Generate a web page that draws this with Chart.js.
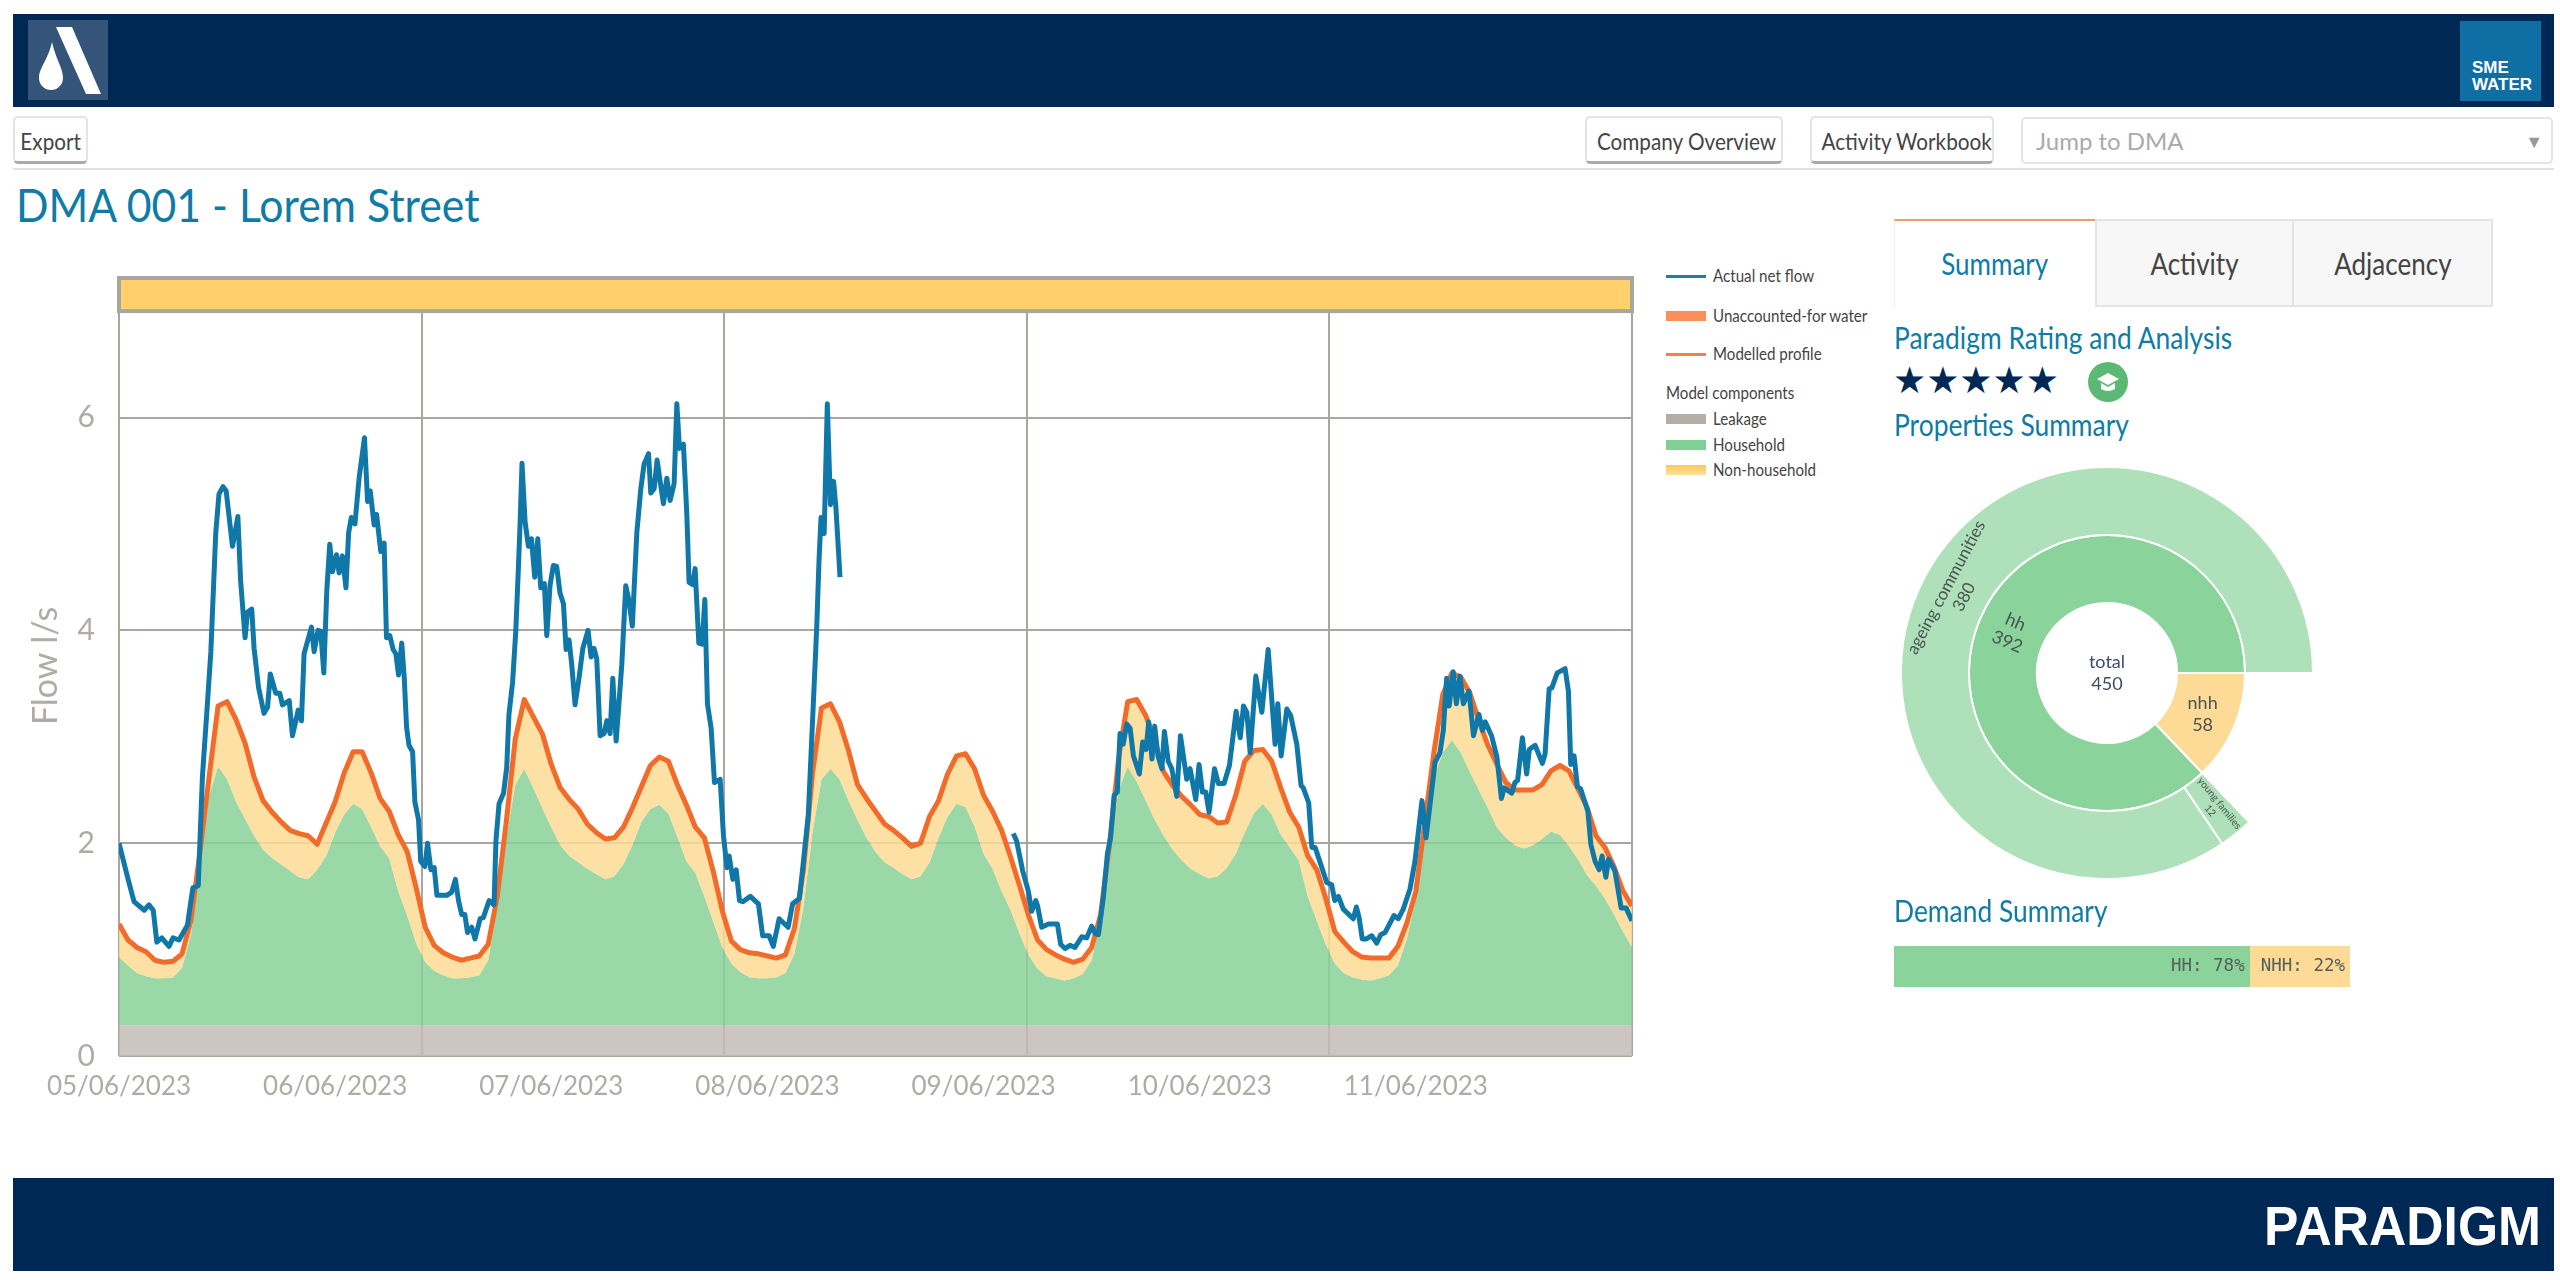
<!DOCTYPE html>
<html>
<head>
<meta charset="utf-8">
<title>DMA 001 - Lorem Street</title>
<script src="https://cdn.jsdelivr.net/npm/chart.js@4"></script>
<style>
  html, body { margin: 0; background: #fff; }
  body { position: relative; width: 2560px; height: 1280px; overflow: hidden; font-family: Lato, sans-serif; color: #444; }
  .abs { position: absolute; white-space: nowrap; }
  .navy { background: #002855; left: 13px; width: 2541px; }
  .btn { top: 116px; height: 48px; line-height: 46px; box-sizing: border-box; border: 2px solid #e4e4e4; border-bottom: 3px solid #aaa; border-radius: 5px; text-align: center; font-size: 23px; color: #444; }
  .btn span, .tab span { display: inline-block; transform: scaleX(0.9); }
  .teal { color: #0e7ca6; }
  .h2 { left: 1894px; font-size: 30px; line-height: 36px; color: #0e7ca6; transform: scaleX(0.88); transform-origin: left; }
  .tab { top: 219px; height: 88px; box-sizing: border-box; line-height: 84px; text-align: center; font-size: 31px; background: #f7f7f7; border: 2px solid #e4e4e4; border-left: 0; }
  .tab span { transform: scaleX(0.84); }
  .leg { left: 1713px; font-size: 17px; line-height: 20px; color: #444; transform: scaleX(0.89); transform-origin: left; }
  .sw { left: 1666px; width: 40px; }
  canvas { position: absolute; }
</style>
</head>
<body>
<div class="abs navy" style="top:14px;height:93px"></div>
<svg class="abs" style="left:28px;top:20px" width="80" height="80" viewBox="0 0 80 80">
  <rect width="80" height="80" fill="#35547a"/>
  <polygon points="28,7 44,7 73,74 58,74" fill="#fff"/>
  <path d="M24,22 C28,40 35,48 35,58 A12,12 0 0 1 11,58 C11,48 20,40 24,22 Z" fill="#fff"/>
</svg>
<svg class="abs" style="left:2460px;top:21px" width="81" height="80">
  <rect width="81" height="80" fill="#0f6ea3"/>
  <text x="12" y="52" font-family="Liberation Sans" font-weight="700" font-size="17" fill="#fff">SME</text>
  <text x="12" y="69" font-family="Liberation Sans" font-weight="700" font-size="17" fill="#fff">WATER</text>
</svg>

<div class="abs btn" style="left:13px;width:75px"><span>Export</span></div>
<div class="abs btn" style="left:1585px;width:198px"><span>Company Overview</span></div>
<div class="abs btn" style="left:1810px;width:184px"><span>Activity Workbook</span></div>
<div class="abs" style="left:2021px;top:117px;width:532px;height:47px;box-sizing:border-box;border:2px solid #e4e4e4;border-radius:5px;line-height:44px;padding-left:13px;font-size:24px;color:#aaa">Jump to DMA<span class="abs" style="right:8px;top:0;font-size:18px;color:#999">▼</span></div>
<div class="abs" style="left:13px;top:168px;width:2541px;height:2px;background:#e2e2e2"></div>

<div class="abs teal" style="left:16px;top:176px;font-size:47px;line-height:56px;transform:scaleX(0.91);transform-origin:left">DMA 001 - Lorem Street</div>

<canvas id="flowChart" style="left:0;top:270px" width="1660" height="830"></canvas>

<div class="abs sw" style="top:275px;height:3px;background:#1d7fa9"></div>
<div class="abs leg" style="top:266px">Actual net flow</div>
<div class="abs sw" style="top:311px;height:10px;background:#fb8f5a"></div>
<div class="abs leg" style="top:306px">Unaccounted-for water</div>
<div class="abs sw" style="top:353px;height:3px;background:#f57f45"></div>
<div class="abs leg" style="top:344px">Modelled profile</div>
<div class="abs leg" style="left:1666px;top:383px">Model components</div>
<div class="abs sw" style="top:414px;height:10px;background:#b5aea6"></div>
<div class="abs leg" style="top:409px">Leakage</div>
<div class="abs sw" style="top:440px;height:10px;background:#7ed095"></div>
<div class="abs leg" style="top:435px">Household</div>
<div class="abs sw" style="top:465px;height:10px;background:linear-gradient(#fbc85e,#fddf9e)"></div>
<div class="abs leg" style="top:460px">Non-household</div>

<div class="abs tab teal" style="left:1894px;width:201px;background:#fff;border:0;border-top:2px solid #ef9a6c;border-left:1px solid #eee"><span>Summary</span></div>
<div class="abs tab" style="left:2095px;width:199px;border-left:2px solid #e4e4e4"><span>Activity</span></div>
<div class="abs tab" style="left:2294px;width:199px"><span>Adjacency</span></div>

<div class="abs h2" style="top:319px">Paradigm Rating and Analysis</div>
<div class="abs" style="left:1893px;top:358px;font-family:'DejaVu Sans';font-size:37px;line-height:46px;color:#002855">★★★★★</div>
<svg class="abs" style="left:2088px;top:362px" width="40" height="40">
  <circle cx="20" cy="20" r="20" fill="#5cb974"/>
  <polygon points="20,11 31,17 20,23 9,17" fill="#fff"/>
  <path d="M13,21 L13,27 Q20,31 27,27 L27,21 L20,25 Z" fill="#fff"/>
</svg>
<div class="abs h2" style="top:406px">Properties Summary</div>
<canvas id="propertiesChart" style="left:1887px;top:453px" width="440" height="440"></canvas>
<div class="abs h2" style="top:892px">Demand Summary</div>
<canvas id="demandChart" style="left:1894px;top:946px" width="456" height="41"></canvas>

<div class="abs navy" style="top:1178px;height:93px"></div>
<svg class="abs" style="left:2264px;top:1195px" width="280" height="60">
  <text x="0" y="50" textLength="277" lengthAdjust="spacingAndGlyphs" font-family="Liberation Sans" font-weight="700" font-size="56" fill="#fff">PARADIGM</text>
</svg>

<script>
// hours since 05/06 00:00; null value = logger gap
const flowHours = [
  0, 1.04, 1.67, 2.8, 3.33, 3.8, 4.2, 4.75, 5.55, 6,
  6.67, 7.6, 8.2, 8.8, 9.26, 9.8, 10.2, 10.74, 11.1, 11.55,
  11.9, 12.6, 13.2, 13.5, 14, 14.26, 14.74, 15, 15.5, 16.1,
  16.5, 16.8, 17.4, 17.85, 18.15, 18.9, 19.26, 19.9, 20.26, 20.55,
  21.37, 21.67, 22.1, 22.4, 22.74, 23.07, 23.4, 23.7, 24.15, 24.44,
  24.8, 25.2, 25.5, 25.8, 26.2, 26.67, 27.26, 27.6, 27.9, 28.33,
  28.6, 29.07, 29.44, 29.7, 30.07, 30.44, 30.74, 31.04, 31.4, 31.67,
  31.93, 32.2, 32.6, 32.85, 33.26, 33.5, 33.96, 34.26, 34.63, 35,
  35.3, 36.4, 36.94, 37.35, 37.7, 38.05, 38.4, 38.7, 39.16, 39.53,
  40.1, 40.45, 41.1, 41.64, 41.86, 42.2, 42.7, 43.05, 43.3, 43.7,
  44.05, 44.35, 44.53, 44.75, 45.09, 45.46, 45.8, 46.16, 46.5, 46.83,
  47.23, 47.5, 47.86, 48.23, 48.6, 48.97, 49.35, 49.64, 49.97, 50.27,
  50.64, 51.08, 51.5, 52.08, 52.42, 52.75, 53.05, 53.42, 53.86, 54.16,
  54.53, 54.83, 55.2, 55.45, 55.83, 56.27, 56.6, 57, 57.5, 57.94,
  58.3, 58.8, 59.05, 59.42, 59.75, 60.45, 60.83, 61.2, 61.64, 61.94,
  62.23, 62.67, 63.05, 63.3, 63.7, 63.97, 64.38, 64.75, 65.05, 65.34,
  65.75, 66.12, 66.75, 67.12, 67.5, 67.75, 68.16, 68.53, 68.9, 69.27,
  70.1, 71, 71.47, 72.2, 72.65, 73.3, 74.3, 74.8, 75.55, 76,
  76.54, 77.17, 77.47, 77.73, 77.95, 78.3, 78.65, 79, 79.35, 79.6,
  80.06, 90,
  99.3, 99.67, 100.34, 100.97, 101.34, 101.8, 102, 102.45, 103.2, 104.2,
  104.56, 105.04, 105.6, 106.15, 106.9, 107.45, 108, 108.4, 108.75, 109.3,
  109.75, 110.1, 110.5, 110.85, 111.15, 111.5, 111.9, 112.27, 112.64, 113.3,
  113.67, 114.04, 114.34, 114.7, 115, 115.37, 115.8, 116.08, 116.5, 116.9,
  117.45, 117.86, 118.56, 118.93, 119.56, 119.93, 120.3, 120.67, 121.04, 121.64,
  122.08, 122.7, 123.3, 124.04, 124.5, 124.86, 125.23, 125.6, 126.23, 126.9,
  127.6, 128.37, 128.67, 129.04, 129.67, 130.1, 130.78, 131.26, 131.5, 132.1,
  132.45, 132.82, 133.56, 134.1, 134.65, 135, 135.4, 135.94, 137.05, 137.4,
  137.7, 138.05, 138.5, 139.1, 139.65, 140.1, 140.57, 141.57, 142.05, 142.6,
  143.35, 143.9, 144.27, 144.68, 145.13, 145.75, 146.13, 146.68, 147.05, 147.42,
  147.7, 148.15, 148.5, 148.9, 149.27, 149.9, 150.4, 151, 151.4, 151.7,
  152.4, 153, 153.5, 153.8, 154.65, 155, 155.3, 155.83, 156.3, 156.6,
  157.24, 158.05, 158.35, 158.8, 159.1, 159.7, 160.57, 160.94, 161.2, 161.57,
  161.94, 162.3, 163.1, 163.43, 163.9, 164.35, 164.68, 165.1, 165.4, 166.1,
  166.8, 167.35, 168
];
const flowValues = [
  2.00, 1.65, 1.45, 1.37, 1.42, 1.37, 1.07, 1.11, 1.03, 1.11,
  1.09, 1.23, 1.58, 1.60, 2.62, 3.29, 3.80, 4.91, 5.28, 5.35,
  5.31, 4.79, 5.07, 4.47, 3.93, 4.17, 4.20, 3.83, 3.46, 3.22,
  3.28, 3.59, 3.41, 3.41, 3.30, 3.34, 3.01, 3.25, 3.15, 3.78,
  4.03, 3.80, 4.00, 3.99, 3.60, 4.37, 4.81, 4.55, 4.71, 4.54,
  4.70, 4.40, 4.92, 5.06, 5.00, 5.44, 5.81, 5.21, 5.31, 4.99,
  5.09, 4.74, 4.82, 3.93, 3.95, 3.82, 3.78, 3.58, 3.88, 3.56,
  3.09, 2.92, 2.86, 2.39, 2.22, 1.83, 1.78, 2.00, 1.75, 1.77,
  1.51, 1.51, 1.54, 1.66, 1.46, 1.33, 1.33, 1.16, 1.21, 1.10,
  1.29, 1.30, 1.46, 1.42, 2.03, 2.37, 2.47, 2.71, 3.21, 3.51,
  3.98, 4.59, 4.99, 5.57, 5.02, 4.79, 4.86, 4.50, 4.86, 4.40,
  4.44, 3.95, 4.42, 4.61, 4.60, 4.35, 4.25, 3.82, 3.91, 3.68,
  3.30, 3.55, 3.83, 4.00, 3.75, 3.83, 3.73, 3.01, 3.03, 3.15,
  3.03, 3.55, 2.96, 3.24, 3.68, 4.42, 4.29, 4.04, 4.92, 5.33,
  5.56, 5.66, 5.29, 5.33, 5.60, 5.19, 5.43, 5.22, 5.38, 6.13,
  5.71, 5.75, 5.09, 4.45, 4.43, 4.58, 3.88, 3.87, 4.29, 3.31,
  3.08, 2.57, 2.60, 2.07, 1.77, 1.88, 1.66, 1.75, 1.46, 1.45,
  1.50, 1.43, 1.13, 1.13, 1.03, 1.29, 1.21, 1.43, 1.48, 1.83,
  2.27, 3.45, 4.02, 4.66, 5.06, 4.91, 6.13, 5.18, 5.40, 5.16,
  4.50, null,
  2.09, 2.02, 1.74, 1.55, 1.36, 1.46, 1.41, 1.21, 1.24, 1.24,
  1.05, 1.01, 1.04, 1.02, 1.12, 1.11, 1.22, 1.15, 1.14, 1.49,
  1.90, 2.05, 2.45, 2.48, 3.03, 2.93, 3.12, 3.08, 2.82, 2.65,
  2.95, 2.88, 3.14, 2.79, 3.10, 2.82, 2.70, 3.05, 2.77, 2.70,
  2.44, 3.01, 2.60, 2.70, 2.41, 2.74, 2.48, 2.48, 2.29, 2.70,
  2.56, 2.56, 2.73, 3.24, 2.99, 3.29, 3.23, 2.85, 3.57, 3.23,
  3.82, 2.93, 3.31, 2.82, 3.26, 3.20, 2.93, 2.54, 2.52, 2.38,
  1.96, 1.96, 1.77, 1.63, 1.61, 1.46, 1.50, 1.38, 1.29, 1.40,
  1.30, 1.10, 1.10, 1.13, 1.06, 1.14, 1.16, 1.32, 1.29, 1.38,
  1.57, 1.83, 2.10, 2.40, 2.05, 2.49, 2.76, 2.85, 3.06, 3.55,
  3.29, 3.61, 3.31, 3.57, 3.31, 3.43, 3.01, 3.21, 3.06, 3.14,
  3.01, 2.81, 2.42, 2.52, 2.47, 2.57, 2.59, 2.99, 2.65, 2.88,
  2.92, 2.75, 2.84, 3.45, 3.46, 3.60, 3.64, 3.43, 2.74, 2.82,
  2.53, 2.51, 2.30, 1.99, 1.83, 1.75, 1.88, 1.68, 1.85, 1.74,
  1.39, 1.39, 1.27
];
// hourly, starting at hour 0
const modelled = [
  1.24, 1.09, 1.02, 0.98, 0.90, 0.88, 0.89, 0.96, 1.28, 1.92,
  2.62, 3.29, 3.33, 3.16, 2.94, 2.62, 2.40, 2.29, 2.20, 2.12,
  2.09, 2.07, 1.99, 2.19, 2.39, 2.66, 2.86, 2.86, 2.66, 2.42,
  2.30, 2.08, 1.92, 1.58, 1.21, 1.04, 0.97, 0.93, 0.90, 0.92,
  0.94, 1.05, 1.50, 2.20, 2.98, 3.35, 3.19, 3.03, 2.74, 2.52,
  2.41, 2.32, 2.18, 2.10, 2.04, 2.05, 2.15, 2.33, 2.53, 2.73,
  2.81, 2.77, 2.55, 2.36, 2.15, 2.05, 1.73, 1.36, 1.08, 1.00,
  0.97, 0.96, 0.94, 0.92, 0.95, 1.20, 1.75, 2.65, 3.27, 3.31,
  3.14, 2.87, 2.55, 2.42, 2.30, 2.18, 2.12, 2.05, 1.97, 2.00,
  2.25, 2.40, 2.65, 2.82, 2.84, 2.70, 2.45, 2.30, 2.12, 1.87,
  1.60, 1.32, 1.09, 1.00, 0.95, 0.91, 0.88, 0.91, 1.02, 1.33,
  2.00, 2.80, 3.33, 3.35, 3.20, 2.97, 2.67, 2.54, 2.44, 2.36,
  2.27, 2.25, 2.19, 2.20, 2.45, 2.77, 2.87, 2.88, 2.77, 2.52,
  2.29, 2.15, 1.88, 1.75, 1.48, 1.17, 1.07, 0.98, 0.93, 0.92,
  0.92, 0.92, 1.03, 1.25, 1.55, 2.20, 2.85, 3.40, 3.60, 3.56,
  3.41, 3.15, 2.92, 2.74, 2.57, 2.50, 2.50, 2.50, 2.55, 2.68,
  2.73, 2.68, 2.51, 2.34, 2.07, 1.96, 1.78, 1.55, 1.41
];
// top of the stacked household area (leakage + household)
const householdTop = [
  0.93, 0.85, 0.78, 0.75, 0.73, 0.73, 0.74, 0.83, 1.15, 1.75,
  2.45, 2.72, 2.60, 2.39, 2.23, 2.07, 1.94, 1.86, 1.80, 1.74,
  1.68, 1.66, 1.75, 1.88, 2.10, 2.27, 2.37, 2.32, 2.15, 1.97,
  1.86, 1.55, 1.32, 1.06, 0.88, 0.80, 0.76, 0.73, 0.73, 0.74,
  0.76, 0.90, 1.40, 2.05, 2.55, 2.70, 2.52, 2.33, 2.15, 1.98,
  1.88, 1.82, 1.76, 1.71, 1.66, 1.69, 1.80, 1.98, 2.20, 2.32,
  2.36, 2.28, 2.06, 1.83, 1.72, 1.50, 1.26, 1.02, 0.87, 0.79,
  0.74, 0.73, 0.73, 0.74, 0.78, 0.96, 1.40, 2.10, 2.60, 2.70,
  2.60, 2.40, 2.22, 2.05, 1.92, 1.82, 1.77, 1.71, 1.66, 1.69,
  1.82, 2.05, 2.25, 2.37, 2.34, 2.16, 1.90, 1.76, 1.55, 1.37,
  1.15, 0.95, 0.82, 0.75, 0.73, 0.71, 0.73, 0.77, 0.90, 1.30,
  1.95, 2.50, 2.72, 2.58, 2.40, 2.22, 2.07, 1.94, 1.84, 1.76,
  1.71, 1.67, 1.69, 1.77, 1.90, 2.10, 2.28, 2.37, 2.27, 2.08,
  1.96, 1.84, 1.50, 1.27, 1.05, 0.87, 0.78, 0.74, 0.72, 0.71,
  0.73, 0.76, 0.85, 1.10, 1.50, 2.10, 2.62, 2.85, 2.97, 2.85,
  2.67, 2.50, 2.33, 2.15, 2.05, 1.98, 1.95, 1.98, 2.04, 2.11,
  2.08, 1.97, 1.85, 1.70, 1.60, 1.48, 1.33, 1.17, 1.02
];
const leakageHours = [0, 168];
const leakage = [0.29, 0.29];
const dateTickHours = [0, 24, 48, 72, 96, 120, 144];
const dateTickLabels = ['05/06/2023', '06/06/2023', '07/06/2023', '08/06/2023', '09/06/2023', '10/06/2023', '11/06/2023'];
const gridHours = [0, 33.6, 67.2, 100.8, 134.4, 168];
const flowTicks = [0, 2, 4, 6];
const statusBand = [7, 7.33];

const propertyNames = ['nhh', 'hh'];
const propertyCounts = [58, 392];
const segmentNames = ['young families', 'ageing communities'];
const segmentCounts = [12, 380];
const propertyTotal = 450;

const demandNames = ['HH', 'NHH'];
const demandShares = [78, 22];

const GREY = '#aba59f';
const TICK_GREY = '#b0aba4';
const toPoints = (xs, ys) => ys.map((y, i) => ({ x: xs[i], y }));
const hourly = values => values.map((y, x) => ({ x, y }));

// yellow status strip above the plot, placed through the y scale
const statusBandPlugin = {
  id: 'statusBand',
  afterDatasetsDraw(chart) {
    const { ctx, chartArea, scales } = chart;
    const top = scales.y.getPixelForValue(statusBand[1]);
    const bottom = scales.y.getPixelForValue(statusBand[0]);
    ctx.save();
    ctx.fillStyle = '#ffd06b';
    ctx.strokeStyle = GREY;
    ctx.lineWidth = 4;
    ctx.fillRect(chartArea.left, top, chartArea.width, bottom - top);
    ctx.strokeRect(chartArea.left, top + 2, chartArea.width, bottom - top - 2);
    ctx.restore();
  }
};

new Chart(document.getElementById('flowChart'), {
  type: 'line',
  data: {
    datasets: [
      { label: 'Actual net flow', data: toPoints(flowHours, flowValues), borderColor: '#0f78a8', borderWidth: 5, spanGaps: false, fill: false },
      { label: 'Modelled profile', data: hourly(modelled), borderColor: '#f26b2a', borderWidth: 5, fill: '+1', backgroundColor: 'rgba(253,218,147,0.85)' },
      { label: 'Household', data: hourly(householdTop), borderWidth: 0, fill: { value: leakage[0] }, backgroundColor: 'rgba(137,209,153,0.85)' },
      { label: 'Leakage', data: toPoints(leakageHours, leakage), borderWidth: 0, fill: 'origin', backgroundColor: 'rgba(194,188,181,0.85)' }
    ]
  },
  options: {
    responsive: false,
    animation: false,
    parsing: false,
    normalized: true,
    layout: { padding: { top: 6, right: 28, left: 0, bottom: 0 } },
    elements: { point: { radius: 0 }, line: { tension: 0, borderJoinStyle: 'round' } },
    plugins: { legend: { display: false }, tooltip: { enabled: false } },
    scales: {
      x: {
        type: 'linear', min: 0, max: 168,
        grid: { display: false },
        border: { display: false },
        afterBuildTicks: scale => { scale.ticks = dateTickHours.map(value => ({ value })); },
        afterFit: scale => { scale.height = 44; },
        ticks: {
          autoSkip: false, maxRotation: 0, padding: 7, color: TICK_GREY,
          font: { family: 'Lato', size: 26 },
          callback: value => dateTickLabels[dateTickHours.indexOf(value)]
        }
      },
      x2: {
        type: 'linear', min: 0, max: 168, position: 'bottom',
        grid: { color: GREY, lineWidth: 2, drawTicks: false },
        border: { display: false },
        afterBuildTicks: scale => { scale.ticks = gridHours.map(value => ({ value })); },
        afterFit: scale => { scale.height = 0; },
        ticks: { display: false }
      },
      y: {
        min: 0, max: statusBand[1],
        grid: { color: GREY, lineWidth: 2, drawTicks: false },
        border: { display: false },
        afterBuildTicks: scale => { scale.ticks = flowTicks.map(value => ({ value })); },
        afterFit: scale => { scale.width = 119; scale.paddingTop = 0; scale.paddingBottom = 0; },
        ticks: { padding: 24, color: TICK_GREY, font: { family: 'Lato', size: 30 } },
        title: { display: true, text: 'Flow l/s', color: TICK_GREY, padding: { top: 26, bottom: 0 }, font: { family: 'Lato', size: 34 } }
      }
    }
  },
  plugins: [statusBandPlugin]
});

const sunburstStyle = [
  [{ name: null }, { font: 10, turn: 'radial' }, { font: 17, turn: 'tangent' }],
  [{ font: 18, turn: 'none' }, { font: 18, turn: 'radial' }]
];

// writes each ring label at the middle of its arc, plus the total in the hole
const sunburstLabels = {
  id: 'sunburstLabels',
  afterDatasetsDraw(chart) {
    const { ctx } = chart;
    ctx.save();
    ctx.textAlign = 'center';
    ctx.textBaseline = 'middle';
    chart.data.datasets.forEach((ds, ring) => {
      chart.getDatasetMeta(ring).data.forEach((arc, i) => {
        const style = sunburstStyle[ring][i];
        if (style.name === null) return;
        const { x, y, startAngle, endAngle, innerRadius, outerRadius } = arc.getProps(['x', 'y', 'startAngle', 'endAngle', 'innerRadius', 'outerRadius'], true);
        const mid = (startAngle + endAngle) / 2;
        const r = (innerRadius + outerRadius) / 2;
        let turn = 0;
        if (style.turn === 'radial') turn = mid;
        if (style.turn === 'tangent') turn = mid + Math.PI / 2;
        if (Math.cos(turn) < 0) turn += Math.PI;
        ctx.save();
        ctx.translate(x + Math.cos(mid) * r, y + Math.sin(mid) * r);
        ctx.rotate(turn);
        ctx.font = style.font + 'px Lato';
        ctx.fillStyle = '#4a5450';
        const gap = style.font * 1.2;
        ctx.fillText(ds.names[i], 0, -gap / 2);
        ctx.fillText(String(ds.data[i]), 0, gap / 2);
        ctx.restore();
      });
    });
    const c = chart.getDatasetMeta(0).data[0];
    ctx.font = '18px Lato';
    ctx.fillStyle = '#3d4a6b';
    ctx.fillText('total', c.x, c.y - 11);
    ctx.fillText(String(propertyTotal), c.x, c.y + 11);
    ctx.restore();
  }
};

new Chart(document.getElementById('propertiesChart'), {
  type: 'doughnut',
  data: {
    datasets: [
      {
        names: ['', ...segmentNames],
        data: [propertyCounts[0], ...segmentCounts],
        backgroundColor: ['rgba(0,0,0,0)', '#aee0b9', '#aee0b9'],
        borderColor: ['rgba(0,0,0,0)', '#fff', '#fff'],
        borderWidth: 2
      },
      {
        names: propertyNames,
        data: propertyCounts,
        backgroundColor: ['#fdda96', '#8ad49c'],
        borderColor: '#fff',
        borderWidth: 2
      }
    ]
  },
  options: {
    responsive: false,
    animation: false,
    rotation: 90,
    radius: 206,
    cutout: '34%',
    hoverOffset: 0,
    plugins: { legend: { display: false }, tooltip: { enabled: false } }
  },
  plugins: [sunburstLabels]
});

// share labels sit inside the right end of each bar
const demandLabels = {
  id: 'demandLabels',
  afterDatasetsDraw(chart) {
    const { ctx } = chart;
    ctx.save();
    ctx.font = '17.5px "DejaVu Sans Mono"';
    ctx.textAlign = 'right';
    ctx.textBaseline = 'middle';
    ctx.fillStyle = '#54605a';
    chart.data.datasets.forEach((ds, i) => {
      const bar = chart.getDatasetMeta(i).data[0];
      ctx.fillText(ds.label + ': ' + ds.data[0] + '%', bar.x - 5, bar.y);
    });
    ctx.restore();
  }
};

new Chart(document.getElementById('demandChart'), {
  type: 'bar',
  data: {
    labels: ['Demand'],
    datasets: [
      { label: demandNames[0], data: [demandShares[0]], backgroundColor: '#8ad49c' },
      { label: demandNames[1], data: [demandShares[1]], backgroundColor: '#fdda96' }
    ]
  },
  options: {
    indexAxis: 'y',
    responsive: false,
    animation: false,
    barPercentage: 1,
    categoryPercentage: 1,
    plugins: { legend: { display: false }, tooltip: { enabled: false } },
    scales: {
      x: { stacked: true, display: false, min: 0, max: 100 },
      y: { stacked: true, display: false }
    }
  },
  plugins: [demandLabels]
});
</script>
</body>
</html>
